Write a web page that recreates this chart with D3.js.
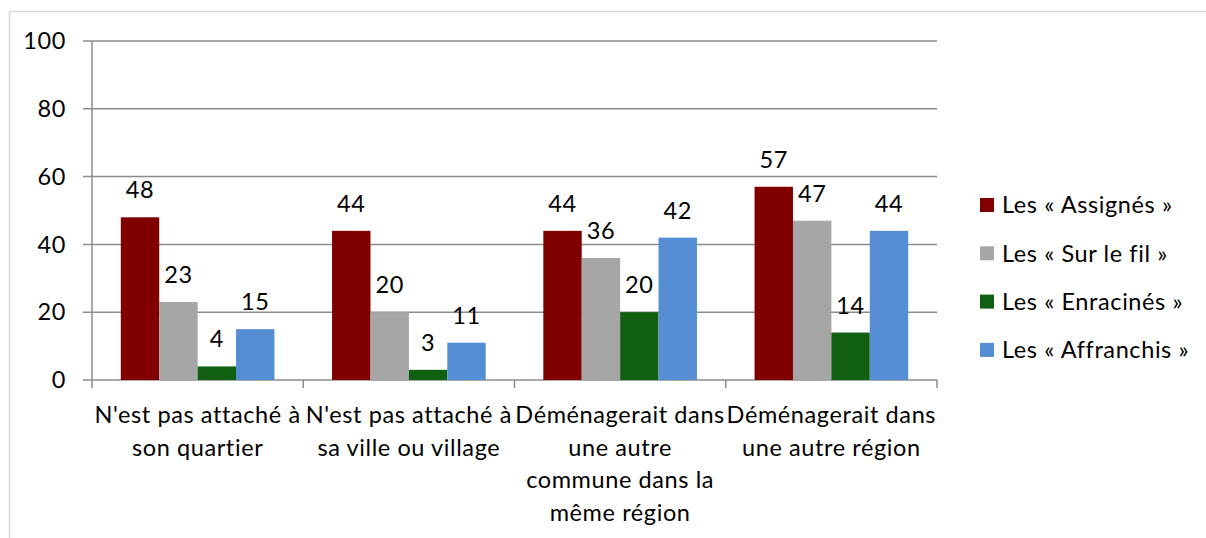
<!DOCTYPE html>
<html>
<head>
<meta charset="utf-8">
<script src="https://cdn.jsdelivr.net/npm/d3@7"></script>
<style>
  body { margin: 0; background: #fff; }
  svg { display: block; font-family: Lato, "Open Sans", sans-serif; }
  text { letter-spacing: 0.6px; }
</style>
</head>
<body>
<svg id="svg1" width="1206" height="538"></svg>
<script>
// data
var categories = [
  ["N'est pas attaché à", "son quartier"],
  ["N'est pas attaché à", "sa ville ou village"],
  ["Déménagerait dans", "une autre", "commune dans la", "même région"],
  ["Déménagerait dans", "une autre région"]
];
var seriesNames = ["Les « Assignés »", "Les « Sur le fil »", "Les « Enracinés »", "Les « Affranchis »"];
var assignes = [48, 44, 44, 57];
var surLeFil = [23, 20, 36, 47];
var enracines = [4, 3, 20, 14];
var affranchis = [15, 11, 42, 44];
var yTicks = [0, 20, 40, 60, 80, 100];
var colors = ["#800000", "#a6a6a6", "#116011", "#558ed5"];

var seriesValues = [assignes, surLeFil, enracines, affranchis];

var svg = d3.select('svg');

var marginLeft = 92;
var marginTop = 41;
var plotW = 845;
var plotH = 339;
var fontSize = 23.5;

// outer border like the spreadsheet chart frame
svg.append("rect")
   .attr("x", 9.5).attr("y", 11.5)
   .attr("width", 1220).attr("height", 560)
   .attr("fill", "none")
   .attr("stroke", "#d9d9d9")
   .attr("stroke-width", 1.5);

var g = svg.append('g')
    .attr('transform', 'translate(' + marginLeft + ',' + marginTop + ')');

var x = d3.scaleBand()
          .domain(d3.range(categories.length))
          .range([0, plotW]);

// gap width 150% as in excel
var barW = x.bandwidth() / 5.5;
var gapOffset = barW * 0.75;

var y = d3.scaleLinear().domain([0, 100]).range([plotH, 0]);

// gridlines
g.append("g")
 .selectAll("line")
 .data(yTicks)
 .enter()
 .append("line")
 .attr("x1", -9)
 .attr("x2", plotW)
 .attr("y1", function(d) { return y(d); })
 .attr("y2", function(d) { return y(d); })
 .attr("stroke", "#8c8c8c")
 .attr("stroke-width", 1.5);

// y axis line
g.append("line")
 .attr("x1", 0).attr("x2", 0)
 .attr("y1", 0).attr("y2", plotH)
 .attr("stroke", "#8c8c8c")
 .attr("stroke-width", 1.5);

// y tick labels
g.append("g")
 .selectAll("text")
 .data(yTicks)
 .enter()
 .append("text")
 .attr("x", -26)
 .attr("y", function(d) { return y(d); })
 .attr("dy", "0.35em")
 .attr("text-anchor", "end")
 .attr("font-size", fontSize)
 .attr("fill", "#000")
 .text(function(d) { return d; });

// x ticks at category boundaries
g.append("g")
 .selectAll("line")
 .data(d3.range(categories.length + 1))
 .enter()
 .append("line")
 .attr("x1", function(d) { return d * x.step(); })
 .attr("x2", function(d) { return d * x.step(); })
 .attr("y1", plotH)
 .attr("y2", plotH + 8)
 .attr("stroke", "#8c8c8c")
 .attr("stroke-width", 1.5);

// bars
var groups = g.append("g")
  .selectAll("g")
  .data(seriesValues)
  .enter()
  .append("g")
  .attr("fill", function(d, i) { return colors[i]; });

groups.selectAll("rect")
  .data(function(d, si) { return d.map(function(v, ci) { return {v: v, s: si, c: ci}; }); })
  .enter()
  .append("rect")
  .attr("x", function(d) { return x(d.c) + gapOffset + d.s * barW; })
  .attr("y", function(d) { return y(d.v); })
  .attr("width", barW)
  .attr("height", function(d) { return plotH - y(d.v); });

// value labels
groups.selectAll("text")
  .data(function(d, si) { return d.map(function(v, ci) { return {v: v, s: si, c: ci}; }); })
  .enter()
  .append("text")
  .attr("x", function(d) { return x(d.c) + gapOffset + d.s * barW + barW / 2; })
  .attr("y", function(d) { return y(d.v) - 19; })
  .attr("text-anchor", "middle")
  .attr("font-size", fontSize)
  .attr("fill", "#000")
  .text(function(d) { return d.v; });

// category labels
var catLabels = g.append("g")
  .selectAll("text")
  .data(categories)
  .enter()
  .append("text")
  .attr("x", function(d, i) { return x(i) + x.bandwidth() / 2; })
  .attr("y", plotH + 43)
  .attr("text-anchor", "middle")
  .attr("font-size", fontSize)
  .attr("fill", "#000");

catLabels.selectAll("tspan")
  .data(function(d) { return d; })
  .enter()
  .append("tspan")
  .attr("x", function() { return d3.select(this.parentNode).attr("x"); })
  .attr("dy", function(d, i) { return i === 0 ? 0 : 32.5; })
  .text(function(d) { return d; });

// legend
var legend = svg.append("g")
  .selectAll("g")
  .data(seriesNames)
  .enter()
  .append("g")
  .attr("transform", function(d, i) { return "translate(980," + (205 + i * 48.3) + ")"; });

legend.append("rect")
  .attr("x", 0).attr("y", -7)
  .attr("width", 14).attr("height", 14)
  .attr("fill", function(d, i) { return colors[i]; });

legend.append("text")
  .attr("x", 22)
  .attr("y", 0)
  .attr("dy", "0.35em")
  .attr("font-size", fontSize)
  .attr("fill", "#000")
  .text(function(d) { return d; });
</script>
</body>
</html>
